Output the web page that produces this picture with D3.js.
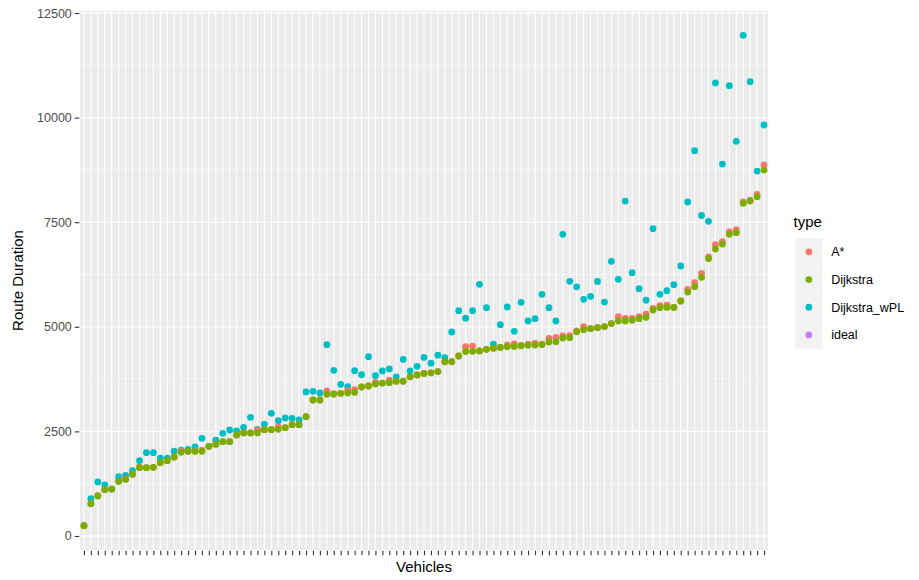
<!DOCTYPE html>
<html>
<head>
<meta charset="utf-8">
<script src="https://cdn.jsdelivr.net/npm/d3@7"></script>
<style>
  html, body { margin: 0; padding: 0; background: #ffffff; }
  svg { display: block; font-family: "Liberation Sans", Arial, Helvetica, sans-serif; }
</style>
</head>
<body>
<svg id="chart" width="919" height="580"></svg>
<script>
// Route duration per vehicle, vehicles ordered by Dijkstra duration
const vehicles = d3.range(1, 100).map(i => "V" + i);

const aStar = [
  246, 772, 965, 1107, 1120, 1307, 1355, 1474, 1650, 1633,
  1640, 1752, 1800, 1888, 2030, 2024, 2024, 2050, 2143, 2195,
  2254, 2254, 2414, 2462, 2462, 2530, 2541, 2541, 2610, 2589,
  2661, 2661, 2852, 3250, 3250, 3466, 3394, 3410, 3474, 3495,
  3561, 3585, 3673, 3655, 3725, 3697, 3700, 3805, 3848, 3885,
  3900, 3930, 4165, 4165, 4302, 4525, 4540, 4422, 4462, 4490,
  4506, 4565, 4590, 4549, 4585, 4605, 4577, 4725, 4745, 4780,
  4790, 4900, 5004, 4956, 4980, 5004, 5076, 5240, 5200, 5202,
  5240, 5305, 5440, 5504, 5520, 5464, 5616, 5895, 6055, 6278,
  6668, 6963, 7035, 7266, 7313, 7983, 8030, 8166, 8867
];

const dijkstra = [
  246, 772, 956, 1107, 1120, 1307, 1355, 1474, 1633, 1633,
  1640, 1752, 1800, 1888, 2000, 2024, 2024, 2024, 2143, 2195,
  2254, 2254, 2414, 2462, 2462, 2462, 2541, 2541, 2548, 2589,
  2661, 2661, 2852, 3250, 3250, 3386, 3394, 3410, 3418, 3430,
  3561, 3585, 3633, 3655, 3665, 3697, 3700, 3805, 3848, 3885,
  3900, 3930, 4165, 4165, 4302, 4410, 4414, 4422, 4462, 4490,
  4506, 4520, 4530, 4549, 4557, 4565, 4577, 4637, 4645, 4730,
  4740, 4880, 4932, 4956, 4980, 5004, 5076, 5138, 5138, 5154,
  5194, 5226, 5401, 5456, 5464, 5464, 5616, 5831, 5959, 6183,
  6629, 6859, 6979, 7210, 7250, 7951, 8006, 8110, 8747
];

const dijkstraWPL = [
  246, 892, 1291, 1219, 1120, 1418, 1450, 1560, 1800, 1991,
  1991, 1860, 1860, 2025, 2050, 2070, 2130, 2335, 2143, 2290,
  2454, 2533, 2510, 2597, 2837, 2550, 2669, 2932, 2756, 2820,
  2812, 2772, 3442, 3458, 3420, 4573, 3960, 3625, 3569, 3950,
  3855, 4286, 3831, 3944, 3991, 3800, 4220, 3944, 4056, 4267,
  4130, 4322, 4265, 4876, 5385, 5205, 5385, 6015, 5456, 4585,
  5050, 5473, 4892, 5585, 5138, 5194, 5777, 5456, 5138, 7210,
  6087, 5955, 5657, 5725, 6083, 5590, 6565, 6135, 8006, 6293,
  5911, 5636, 7345, 5777, 5864, 6007, 6453, 7983, 9209, 7660,
  7521, 10827, 8890, 10763, 9432, 11967, 10859, 8723, 9823
];

// "ideal" has no recorded durations, it only appears in the legend
const ideal = [];

const yTicks = [0, 2500, 5000, 7500, 10000, 12500];
const yMinorTicks = [1250, 3750, 6250, 8750, 11250];

const typeNames = ["A*", "Dijkstra", "Dijkstra_wPL", "ideal"];
const typeColors = ["#F8766D", "#7CAE00", "#00BFC4", "#C77CFF"];
const typeValues = [aStar, dijkstra, dijkstraWPL, ideal];

const panel = { left: 79.8, right: 768.2, top: 10.8, bottom: 550.2 };
const svg = d3.select("#chart");

// continuous y with 5% expansion on each side
const all = [].concat(aStar, dijkstra, dijkstraWPL);
const yMin = d3.min(all), yMax = d3.max(all);
const pad = (yMax - yMin) * 0.05;
const y = d3.scaleLinear()
  .domain([yMin - pad, yMax + pad])
  .range([panel.bottom, panel.top]);

const x = d3.scalePoint()
  .domain(vehicles)
  .range([panel.left, panel.right])
  .padding(0.6);

// panel background
svg.append("rect")
  .attr("x", panel.left).attr("y", panel.top)
  .attr("width", panel.right - panel.left)
  .attr("height", panel.bottom - panel.top)
  .attr("fill", "#EBEBEB");

const grid = svg.append("g");
grid.selectAll("line.minor").data(yMinorTicks).join("line")
  .attr("x1", panel.left).attr("x2", panel.right)
  .attr("y1", d => y(d)).attr("y2", d => y(d))
  .attr("stroke", "#ffffff").attr("stroke-width", 0.55);
grid.append("g").selectAll("line").data(yTicks).join("line")
  .attr("x1", panel.left).attr("x2", panel.right)
  .attr("y1", d => y(d)).attr("y2", d => y(d))
  .attr("stroke", "#ffffff").attr("stroke-width", 1.1);
grid.append("g").selectAll("line").data(vehicles).join("line")
  .attr("x1", d => x(d)).attr("x2", d => x(d))
  .attr("y1", panel.top).attr("y2", panel.bottom)
  .attr("stroke", "#ffffff").attr("stroke-width", 1.1);

// points: Dijkstra_wPL first, then A*, Dijkstra on top
const drawOrder = [2, 0, 1];
drawOrder.forEach(k => {
  svg.append("g").selectAll("circle")
    .data(typeValues[k].map((v, i) => ({ v, i })).filter(d => d.v != null))
    .join("circle")
    .attr("cx", d => x(vehicles[d.i]))
    .attr("cy", d => y(d.v))
    .attr("r", 3.4)
    .attr("fill", typeColors[k]);
});

// y axis
const yAxis = d3.axisLeft(y).tickValues(yTicks).tickFormat(d3.format("d"))
  .tickSize(4.5).tickPadding(3);
const gy = svg.append("g").attr("transform", `translate(${panel.left - 0.5},0)`).call(yAxis);
gy.select(".domain").remove();
gy.selectAll(".tick line").attr("stroke", "#333333").attr("stroke-width", 1.1);
gy.selectAll(".tick text").attr("fill", "#4D4D4D").style("font-size", "12.5px")
  .style("font-family", "Liberation Sans, Arial, sans-serif");

// x axis: ticks only
const xAxis = d3.axisBottom(x).tickSize(4.5).tickFormat("");
const gx = svg.append("g").attr("transform", `translate(0,${panel.bottom + 0.5})`).call(xAxis);
gx.select(".domain").remove();
gx.selectAll(".tick line").attr("stroke", "#333333").attr("stroke-width", 1.1);

// axis titles
svg.append("text")
  .attr("x", (panel.left + panel.right) / 2).attr("y", 571.5)
  .attr("text-anchor", "middle").attr("fill", "#000")
  .style("font-size", "15px").text("Vehicles");
svg.append("text")
  .attr("transform", `translate(22.5,${(panel.top + panel.bottom) / 2}) rotate(-90)`)
  .attr("text-anchor", "middle").attr("fill", "#000")
  .style("font-size", "15px").text("Route Duration");

// legend
const legend = svg.append("g").attr("transform", "translate(795,238)");
legend.append("text").attr("x", -1.5).attr("y", -11).attr("fill", "#000")
  .style("font-size", "15px").text("type");
const keySize = 27.7;
typeNames.forEach((name, i) => {
  const g = legend.append("g").attr("transform", `translate(0,${i * keySize})`);
  g.append("rect").attr("width", keySize).attr("height", keySize).attr("fill", "#F2F2F2");
  g.append("circle").attr("cx", keySize / 2).attr("cy", keySize / 2).attr("r", 3.4)
    .attr("fill", typeColors[i]);
  g.append("text").attr("x", keySize + 8.5).attr("y", keySize / 2).attr("dy", "0.35em")
    .attr("fill", "#000").style("font-size", "12.5px").text(name);
});
</script>
</body>
</html>
